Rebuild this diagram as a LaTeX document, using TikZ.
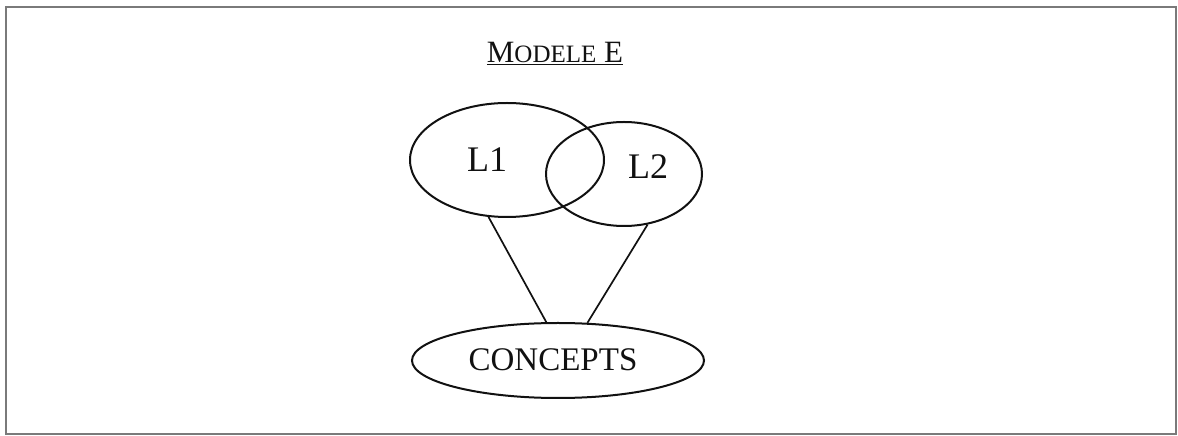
\documentclass[tikz,border=0pt]{standalone}
\usepackage{fontspec}
\setmainfont{Liberation Serif}
\usetikzlibrary{shapes.geometric}
\definecolor{tinta}{HTML}{111111}
\definecolor{marco}{HTML}{7A7A7A}
\tikzset{
  conjunto/.style={ellipse,draw=tinta,line width=2pt,inner sep=0pt},
  etiqueta/.style={font=\fontsize{36}{40}\selectfont,text=tinta,inner sep=0pt},
  enlace/.style={draw=tinta,line width=1.7pt},
  titulo/.style={font=\fontsize{31}{34}\selectfont,text=tinta,inner sep=0pt,anchor=base},
}
\begin{document}
\begin{tikzpicture}[x=1pt,y=1pt]
\useasboundingbox (0,0) rectangle (1178,436);
\draw[marco,line width=1.3pt] (6,2) rectangle (1176,429);
\node[titulo] (titre) at (555,373) {\underline{M{\fontsize{25}{28}\selectfont ODELE} E}};
\node[conjunto,minimum width=194pt,minimum height=114pt] (l1) at (507,276) {};
\node[conjunto,minimum width=156pt,minimum height=104pt] (l2) at (624,262) {};
\node[conjunto,minimum width=292pt,minimum height=75pt] (conc) at (558,75.5) {};
\node[etiqueta] (tl1) at (487,276.5) {L1};
\node[etiqueta] (tl2) at (648,269.5) {L2};
\node[etiqueta,font=\fontsize{33}{37}\selectfont] (tconc) at (553,76) {CONCEPTS};
\draw[enlace] (l1.-108.4) -- (conc.107.7);
\draw[enlace] (l2.-65) -- (conc.52.3);
\end{tikzpicture}
\end{document}
